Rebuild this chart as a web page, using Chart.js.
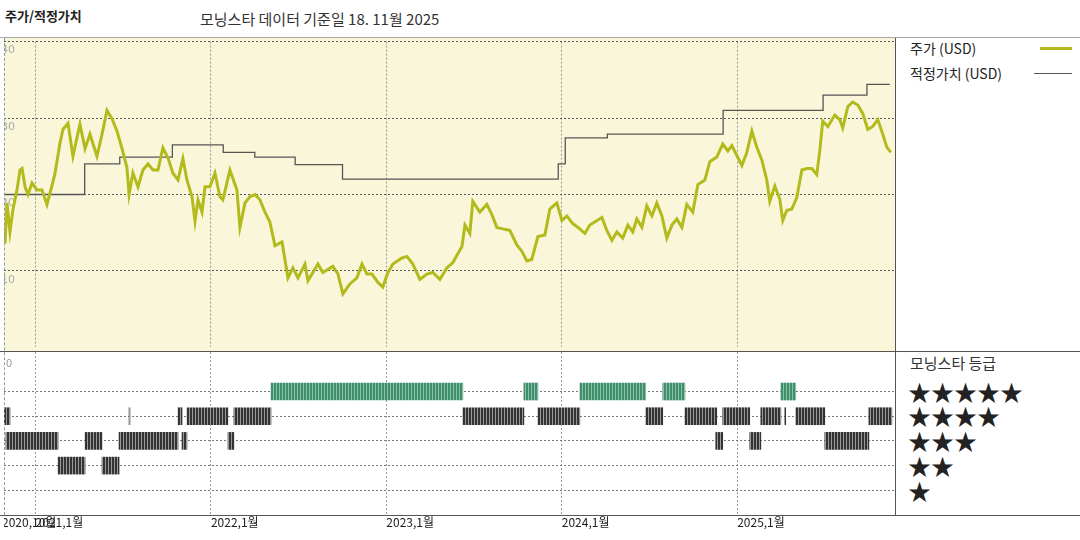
<!DOCTYPE html>
<html>
<head>
<meta charset="utf-8">
<script src="https://cdn.jsdelivr.net/npm/chart.js@4"></script>
<style>
  body { margin: 0; width: 1080px; height: 540px; background: #fff; position: relative; overflow: hidden;
         font-family: "Noto Sans CJK KR", sans-serif; color: #222; }
  .abs { position: absolute; }
  .t { position: absolute; white-space: nowrap; line-height: 1; }
</style>
</head>
<body>
<div class="t" style="left:5px;top:9px;font-size:13px;font-weight:bold;">주가/적정가치</div>
<div class="t" style="left:200px;top:11px;font-size:15px;color:#333;">모닝스타 데이터 기준일 18. 11월 2025</div>

<div class="abs" style="left:0;top:37px;width:1080px;border-top:1px solid #aaa;"></div>
<div class="abs" style="left:4px;top:38px;width:891px;height:313px;background:#faf6da;"><canvas id="top" width="891" height="313"></canvas></div>
<div class="abs" style="left:4px;top:352px;width:891px;height:185px;"><canvas id="bottom" width="891" height="185"></canvas></div>
<div class="abs" style="left:0;top:351px;width:1080px;border-top:1px solid #555;"></div>
<div class="abs" style="left:0;top:515px;width:1080px;border-top:1px solid #555;"></div>
<div class="abs" style="left:895px;top:38px;height:477px;border-left:1px solid #555;"></div>
<div class="abs" style="left:4px;top:38px;height:477px;border-left:1px dashed #999;"></div>

<div class="t" style="left:910px;top:41px;font-size:14px;">주가 (USD)</div>
<div class="abs" style="left:1040px;top:47px;width:32px;height:3px;background:#b3bb1c;"></div>
<div class="t" style="left:910px;top:66px;font-size:14px;">적정가치 (USD)</div>
<div class="abs" style="left:1034px;top:73px;width:38px;height:1px;background:#555;"></div>
<div class="t" style="left:910px;top:355px;font-size:15px;color:#333;">모닝스타 등급</div>
<div class="t" style="left:908px;top:380px;font-size:23px;">★★★★★</div>
<div class="t" style="left:908px;top:404px;font-size:23px;">★★★★</div>
<div class="t" style="left:908px;top:429px;font-size:23px;">★★★</div>
<div class="t" style="left:908px;top:454px;font-size:23px;">★★</div>
<div class="t" style="left:908px;top:479px;font-size:23px;">★</div>
<div class="t" style="left:6px;top:357px;font-size:11px;color:#999;">0</div>

<script>
// decimal years
const priceDates = [2020.826,2020.837,2020.854,2020.871,2020.894,2020.911,2020.923,2020.940,2020.957,2020.980,
  2021.008,2021.037,2021.065,2021.094,2021.111,2021.139,2021.156,2021.185,2021.213,2021.253,2021.282,2021.310,
  2021.350,2021.379,2021.407,2021.436,2021.464,2021.493,2021.521,2021.533,2021.555,2021.584,2021.612,2021.641,
  2021.669,2021.698,2021.726,2021.755,2021.783,2021.812,2021.840,2021.863,2021.892,2021.909,2021.926,2021.949,
  2021.966,2021.994,2022.023,2022.051,2022.068,2022.108,2022.148,2022.165,2022.194,2022.222,2022.251,2022.279,
  2022.308,2022.336,2022.365,2022.405,2022.439,2022.467,2022.496,2022.536,2022.553,2022.610,2022.638,2022.695,
  2022.724,2022.752,2022.792,2022.832,2022.861,2022.889,2022.918,2022.952,2022.980,2023.009,2023.037,2023.089,
  2023.117,2023.151,2023.191,2023.231,2023.265,2023.305,2023.345,2023.379,2023.431,2023.448,2023.476,2023.493,
  2023.533,2023.573,2023.601,2023.630,2023.664,2023.704,2023.744,2023.772,2023.801,2023.829,2023.864,2023.904,
  2023.932,2023.972,2024.001,2024.029,2024.063,2024.103,2024.132,2024.160,2024.229,2024.257,2024.286,2024.314,
  2024.348,2024.377,2024.405,2024.428,2024.457,2024.485,2024.514,2024.542,2024.571,2024.599,2024.628,2024.656,
  2024.685,2024.713,2024.747,2024.776,2024.816,2024.844,2024.884,2024.918,2024.947,2024.970,2024.998,2025.027,
  2025.055,2025.084,2025.112,2025.141,2025.169,2025.186,2025.215,2025.243,2025.260,2025.283,2025.312,2025.340,
  2025.369,2025.397,2025.426,2025.454,2025.471,2025.488,2025.517,2025.557,2025.585,2025.602,2025.631,2025.659,
  2025.688,2025.716,2025.745,2025.773,2025.802,2025.830,2025.853,2025.876];
const priceValues = [13.6,18.9,15.1,18.0,20.6,23.2,23.4,21.0,20.0,21.5,
  20.6,20.6,18.7,21.2,22.8,26.7,28.5,29.3,25.0,29.2,26.0,27.9,
  25.0,27.9,31.0,29.9,28.3,26.0,23.5,20.0,22.8,21.0,23.2,24.0,
  23.2,23.2,26.1,24.8,22.8,21.9,24.7,21.9,19.7,16.5,19.3,17.7,
  21.0,21.0,22.8,19.7,19.3,23.2,20.6,15.7,18.9,19.7,20.0,19.3,
  17.7,16.4,13.3,13.8,9.1,10.4,9.1,10.9,8.7,10.9,9.8,10.6,
  9.6,7.0,8.3,9.1,10.9,9.6,9.6,8.5,7.9,9.8,10.9,11.7,
  11.9,10.9,8.9,9.6,9.8,8.9,10.4,11.1,13.2,16.0,14.9,19.1,
  17.7,18.7,17.4,15.7,15.5,15.3,13.4,12.6,11.3,11.5,14.5,14.7,
  18.1,18.9,16.6,17.2,16.2,15.5,14.9,16.0,17.0,15.3,14.0,15.1,
  14.3,16.0,15.1,16.8,15.7,18.5,17.2,18.9,17.2,14.3,16.0,16.8,
  15.7,18.7,17.7,21.3,21.9,24.3,24.9,26.6,25.7,26.4,25.1,23.8,
  25.5,28.3,26.2,24.5,21.9,19.1,21.1,19.4,16.6,17.9,18.1,19.6,
  23.2,23.4,23.4,22.6,25.7,29.6,28.9,30.4,29.8,28.7,31.5,32.1,
  31.7,30.6,28.5,28.9,29.8,27.9,26.2,25.5];

const fairDates = [2020.82,2021.28,2021.48,2021.78,2022.07,2022.25,2022.48,2022.75,2023.98,2024.02,2024.26,2024.92,2025.49,2025.74,2025.87];
const fairValues = [20.0,24.0,24.9,26.5,25.5,24.9,23.9,22.0,24.0,27.4,27.9,31.0,33.0,34.4,34.4];

const yearTicks = [2021, 2022, 2023, 2024, 2025];
const axisLabels = [[2020.82, "2020,10월"], [2021, "2021,1월"], [2022, "2022,1월"], [2023, "2023,1월"], [2024, "2024,1월"], [2025, "2025,1월"]];
const priceTicks = [10, 20, 30, 40];

// rating segments [start, end] per star row
const rating5 = [[2022.342,2023.436],[2023.784,2023.864],[2024.103,2024.479],[2024.576,2024.702],[2025.249,2025.334]];
const rating4 = [[2020.814,2020.854],[2021.533,2021.538],[2021.812,2021.835],[2021.863,2022.097],[2022.131,2022.342],
  [2023.436,2023.784],[2023.864,2024.103],[2024.479,2024.576],[2024.702,2024.884],[2024.918,2025.072],
  [2025.135,2025.249],[2025.272,2025.277],[2025.334,2025.500],[2025.751,2025.882]];
const rating3 = [[2020.831,2021.128],[2021.282,2021.379],[2021.476,2021.812],[2021.835,2021.863],[2022.097,2022.131],
  [2024.878,2024.918],[2025.072,2025.135],[2025.500,2025.751]];
const rating2 = [[2021.128,2021.282],[2021.379,2021.476]];

const X_MIN = 2020.82, X_MAX = 2025.9;

function stripes(color, light) {
  const c = document.createElement("canvas");
  c.width = 3; c.height = 4;
  const g = c.getContext("2d");
  g.fillStyle = color; g.fillRect(0, 0, 3, 4);
  g.fillStyle = light; g.fillRect(2, 0, 1, 4);
  return g.createPattern(c, "repeat");
}

function xScale() {
  return {
    type: "linear", min: X_MIN, max: X_MAX, offset: false,
    afterBuildTicks(s) { s.ticks = yearTicks.map((v) => ({ value: v })); },
    afterFit(s) { s.height = 0; },
    ticks: { display: false },
    grid: { color: "#999", drawTicks: false, offset: false },
    border: { display: false, dash: [2, 2] },
  };
}

new Chart(document.getElementById("top"), {
  type: "line",
  data: {
    datasets: [
      {
        data: priceDates.map((d, i) => ({ x: d, y: priceValues[i] })),
        borderColor: "#b3bb1c", borderWidth: 3, pointRadius: 0, tension: 0,
      },
      {
        data: fairDates.map((d, i) => ({ x: d, y: fairValues[i] })),
        borderColor: "#555", borderWidth: 1.3, pointRadius: 0, stepped: "before",
      },
    ],
  },
  options: {
    responsive: false, animation: false,
    layout: { padding: 0 },
    plugins: { legend: { display: false }, tooltip: { enabled: false } },
    scales: {
      x: xScale(),
      y: {
        min: 0, max: 40,
        afterBuildTicks(s) { s.ticks = priceTicks.map((v) => ({ value: v })); },
        afterFit(s) { s.width = 0; },
        ticks: { mirror: true, padding: -3, labelOffset: 9, color: "#aaa", font: { size: 11, family: "DejaVu Sans" } },
        grid: { color: "#555", drawTicks: false },
        border: { display: false, dash: [2, 2] },
      },
    },
  },
});

const rows = [[5, rating5, stripes("#3f8f6c", "#8cc0a6")], [4, rating4, stripes("#333", "#999")],
  [3, rating3, stripes("#333", "#999")], [2, rating2, stripes("#333", "#999")]];

const labelPlugin = {
  id: "yearLabels",
  afterDraw(chart) {
    const ctx = chart.ctx, sx = chart.scales.x;
    ctx.save();
    ctx.font = "12px 'Noto Sans CJK KR'";
    ctx.fillStyle = "#222";
    ctx.textBaseline = "top";
    axisLabels.forEach(([v, t]) => ctx.fillText(t, sx.getPixelForValue(v) - (v === X_MIN ? 2 : 0), 164));
    ctx.restore();
  },
};

new Chart(document.getElementById("bottom"), {
  type: "bar",
  data: {
    datasets: rows.map(([r, segs, pat]) => ({
      data: segs.map((s) => ({ x: s, y: r })),
      backgroundColor: pat, barThickness: 17, borderSkipped: false, grouped: false,
    })),
  },
  options: {
    indexAxis: "y", responsive: false, animation: false,
    layout: { padding: { bottom: 22 } },
    plugins: { legend: { display: false }, tooltip: { enabled: false } },
    scales: {
      x: xScale(),
      y: {
        type: "linear", min: 0, max: 6.6, offset: false, reverse: false,
        afterBuildTicks(s) { s.ticks = [1, 2, 3, 4, 5].map((v) => ({ value: v })); },
        afterFit(s) { s.width = 0; },
        ticks: { display: false },
        grid: { color: "#777", drawTicks: false, offset: false },
        border: { display: false, dash: [2, 2] },
      },
    },
  },
  plugins: [labelPlugin],
});
</script>
</body>
</html>
